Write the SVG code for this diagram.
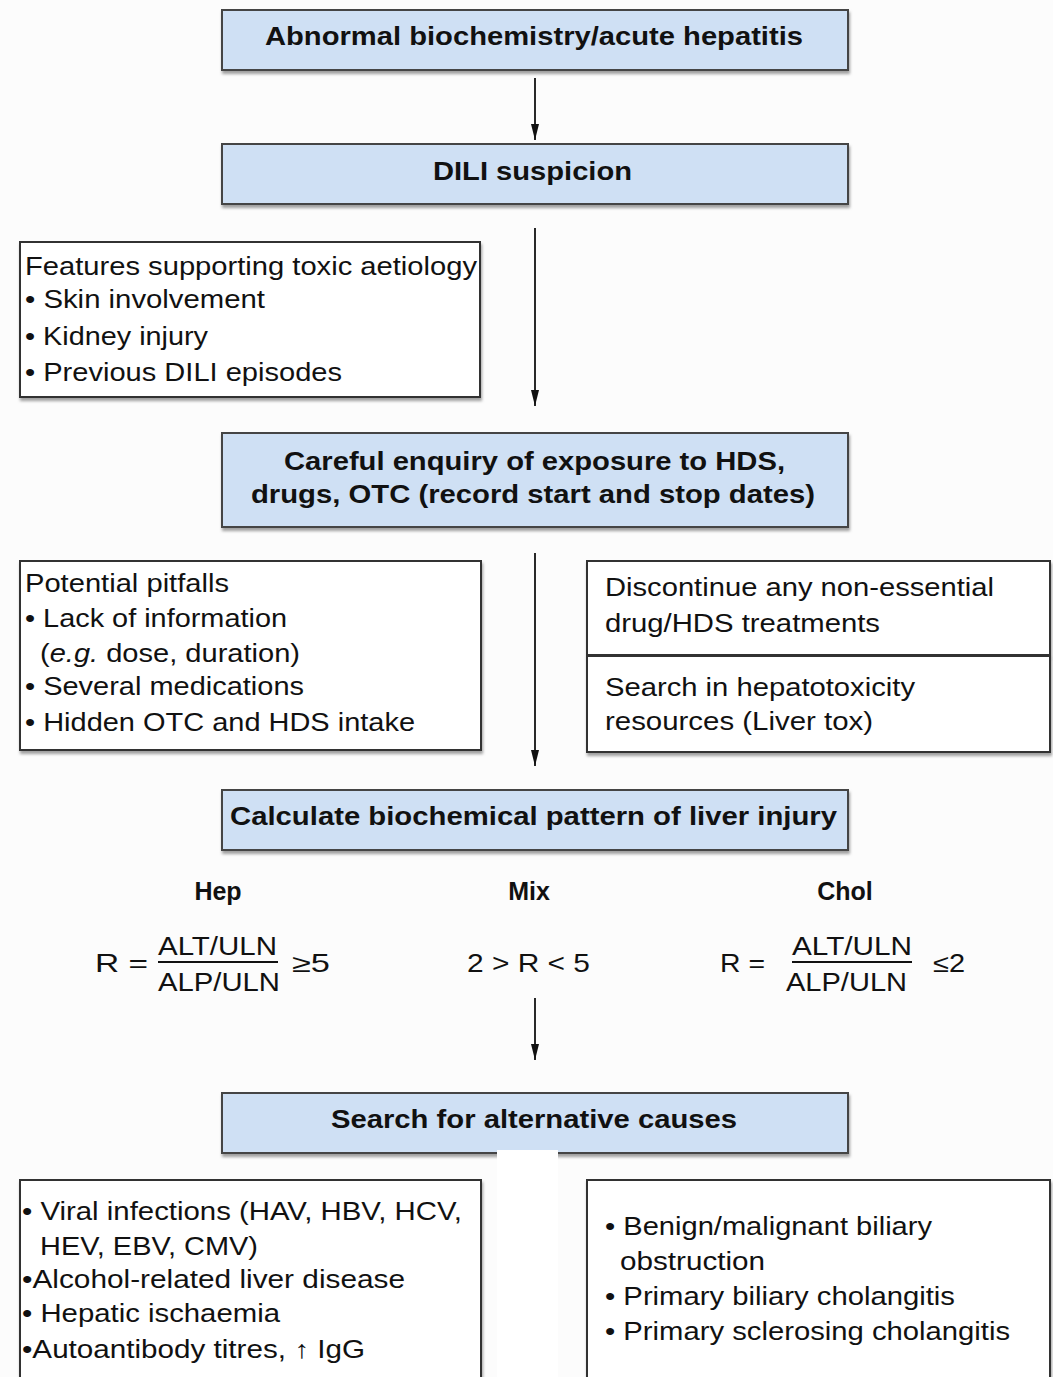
<svg xmlns="http://www.w3.org/2000/svg" width="1053" height="1377" viewBox="0 0 1053 1377">
<defs>
<marker id="ah" viewBox="0 0 16 10" refX="16" refY="5" markerWidth="16" markerHeight="10" markerUnits="userSpaceOnUse" orient="auto">
<path d="M0,1 L16,5 L0,9 z" fill="#111"/>
</marker>
<filter id="sh" x="-5%" y="-10%" width="110%" height="130%">
<feDropShadow dx="1" dy="3" stdDeviation="1.5" flood-color="#777" flood-opacity="0.7"/>
</filter>
</defs>
<style>
.blue{fill:#cfe0f4;stroke:#444;stroke-width:2;}
.wbox{fill:#fff;stroke:#333;stroke-width:2;}
text{font-family:"Liberation Sans",Arial,sans-serif;font-size:25px;fill:#111;}
.b{font-weight:bold;}
.conn{stroke:#111;stroke-width:1.8;fill:none;}
</style>
<rect x="0" y="0" width="1053" height="1377" fill="#fcfcfc"/>

<g id="connectors">
<line class="conn" x1="535" y1="78" x2="535" y2="140" marker-end="url(#ah)"/>
<line class="conn" x1="535" y1="228" x2="535" y2="406" marker-end="url(#ah)"/>
<line class="conn" x1="535" y1="553" x2="535" y2="766" marker-end="url(#ah)"/>
<line class="conn" x1="535" y1="998" x2="535" y2="1060" marker-end="url(#ah)"/>
</g>

<g id="n1">
<rect class="blue" x="222" y="10" width="626" height="60" filter="url(#sh)"/>
<text class="b" x="265" y="45" textLength="538" lengthAdjust="spacingAndGlyphs">Abnormal biochemistry/acute hepatitis</text>
</g>

<g id="n2">
<rect class="blue" x="222" y="144" width="626" height="60" filter="url(#sh)"/>
<text class="b" x="433" y="180" textLength="199" lengthAdjust="spacingAndGlyphs">DILI suspicion</text>
</g>

<g id="n3">
<rect class="wbox" x="20" y="242" width="460" height="155" filter="url(#sh)"/>
<text x="25" y="275" textLength="452" lengthAdjust="spacingAndGlyphs">Features supporting toxic aetiology</text>
<text x="25" y="308" textLength="240" lengthAdjust="spacingAndGlyphs">• Skin involvement</text>
<text x="25" y="345" textLength="183" lengthAdjust="spacingAndGlyphs">• Kidney injury</text>
<text x="25" y="381" textLength="317" lengthAdjust="spacingAndGlyphs">• Previous DILI episodes</text>
</g>

<g id="n4">
<rect class="blue" x="222" y="433" width="626" height="94" filter="url(#sh)"/>
<text class="b" x="284" y="470" textLength="501" lengthAdjust="spacingAndGlyphs">Careful enquiry of exposure to HDS,</text>
<text class="b" x="251" y="503" textLength="564" lengthAdjust="spacingAndGlyphs">drugs, OTC (record start and stop dates)</text>
</g>

<g id="n5">
<rect class="wbox" x="20" y="561" width="461" height="189" filter="url(#sh)"/>
<text x="25" y="592" textLength="204" lengthAdjust="spacingAndGlyphs">Potential pitfalls</text>
<text x="25" y="627" textLength="262" lengthAdjust="spacingAndGlyphs">• Lack of information</text>
<text x="40" y="662" textLength="260" lengthAdjust="spacingAndGlyphs">(<tspan font-style="italic">e.g.</tspan> dose, duration)</text>
<text x="25" y="695" textLength="279" lengthAdjust="spacingAndGlyphs">• Several medications</text>
<text x="25" y="731" textLength="390" lengthAdjust="spacingAndGlyphs">• Hidden OTC and HDS intake</text>
</g>

<g id="n6">
<rect class="wbox" x="587" y="561" width="463" height="94" filter="url(#sh)"/>
<text x="605" y="596" textLength="389" lengthAdjust="spacingAndGlyphs">Discontinue any non-essential</text>
<text x="605" y="632" textLength="275" lengthAdjust="spacingAndGlyphs">drug/HDS treatments</text>
</g>

<g id="n7">
<rect class="wbox" x="587" y="656" width="463" height="96" filter="url(#sh)"/>
<text x="605" y="696" textLength="310" lengthAdjust="spacingAndGlyphs">Search in hepatotoxicity</text>
<text x="605" y="730" textLength="268" lengthAdjust="spacingAndGlyphs">resources (Liver tox)</text>
</g>

<g id="n8">
<rect class="blue" x="222" y="790" width="626" height="60" filter="url(#sh)"/>
<text class="b" x="230" y="825" textLength="607" lengthAdjust="spacingAndGlyphs">Calculate biochemical pattern of liver injury</text>
</g>

<g id="n9">
<text class="b" x="218" y="900" text-anchor="middle">Hep</text>
<text x="95" y="972" textLength="53" lengthAdjust="spacingAndGlyphs">R =</text>
<text x="158" y="955" textLength="119" lengthAdjust="spacingAndGlyphs">ALT/ULN</text>
<line x1="158" y1="962" x2="278" y2="962" stroke="#111" stroke-width="2"/>
<text x="158" y="991" textLength="122" lengthAdjust="spacingAndGlyphs">ALP/ULN</text>
<text x="292" y="972" textLength="38" lengthAdjust="spacingAndGlyphs">≥5</text>
</g>

<g id="n10">
<text class="b" x="529" y="900" text-anchor="middle">Mix</text>
<text x="467" y="972" textLength="123" lengthAdjust="spacingAndGlyphs">2 &gt; R &lt; 5</text>
</g>

<g id="n11">
<text class="b" x="845" y="900" text-anchor="middle">Chol</text>
<text x="720" y="972" textLength="45" lengthAdjust="spacingAndGlyphs">R =</text>
<text x="792" y="955" textLength="120" lengthAdjust="spacingAndGlyphs">ALT/ULN</text>
<line x1="792" y1="962" x2="912" y2="962" stroke="#111" stroke-width="2"/>
<text x="786" y="991" textLength="121" lengthAdjust="spacingAndGlyphs">ALP/ULN</text>
<text x="933" y="972" textLength="32" lengthAdjust="spacingAndGlyphs">≤2</text>
</g>

<g id="n12">
<rect class="blue" x="222" y="1093" width="626" height="60" filter="url(#sh)"/>
<text class="b" x="331" y="1128" textLength="406" lengthAdjust="spacingAndGlyphs">Search for alternative causes</text>
</g>

<rect x="497" y="1150" width="61" height="227" fill="#ffffff"/>

<g id="n13">
<rect class="wbox" x="20" y="1180" width="461" height="220" filter="url(#sh)"/>
<text x="22" y="1220" textLength="440" lengthAdjust="spacingAndGlyphs">• Viral infections (HAV, HBV, HCV,</text>
<text x="40" y="1255" textLength="218" lengthAdjust="spacingAndGlyphs">HEV, EBV, CMV)</text>
<text x="22" y="1288" textLength="383" lengthAdjust="spacingAndGlyphs">•Alcohol-related liver disease</text>
<text x="22" y="1322" textLength="258" lengthAdjust="spacingAndGlyphs">• Hepatic ischaemia</text>
<text x="22" y="1358" textLength="343" lengthAdjust="spacingAndGlyphs">•Autoantibody titres, ↑ IgG</text>
</g>

<g id="n14">
<rect class="wbox" x="587" y="1180" width="463" height="220" filter="url(#sh)"/>
<text x="605" y="1235" textLength="327" lengthAdjust="spacingAndGlyphs">• Benign/malignant biliary</text>
<text x="620" y="1270" textLength="145" lengthAdjust="spacingAndGlyphs">obstruction</text>
<text x="605" y="1305" textLength="350" lengthAdjust="spacingAndGlyphs">• Primary biliary cholangitis</text>
<text x="605" y="1340" textLength="405" lengthAdjust="spacingAndGlyphs">• Primary sclerosing cholangitis</text>
</g>
</svg>
